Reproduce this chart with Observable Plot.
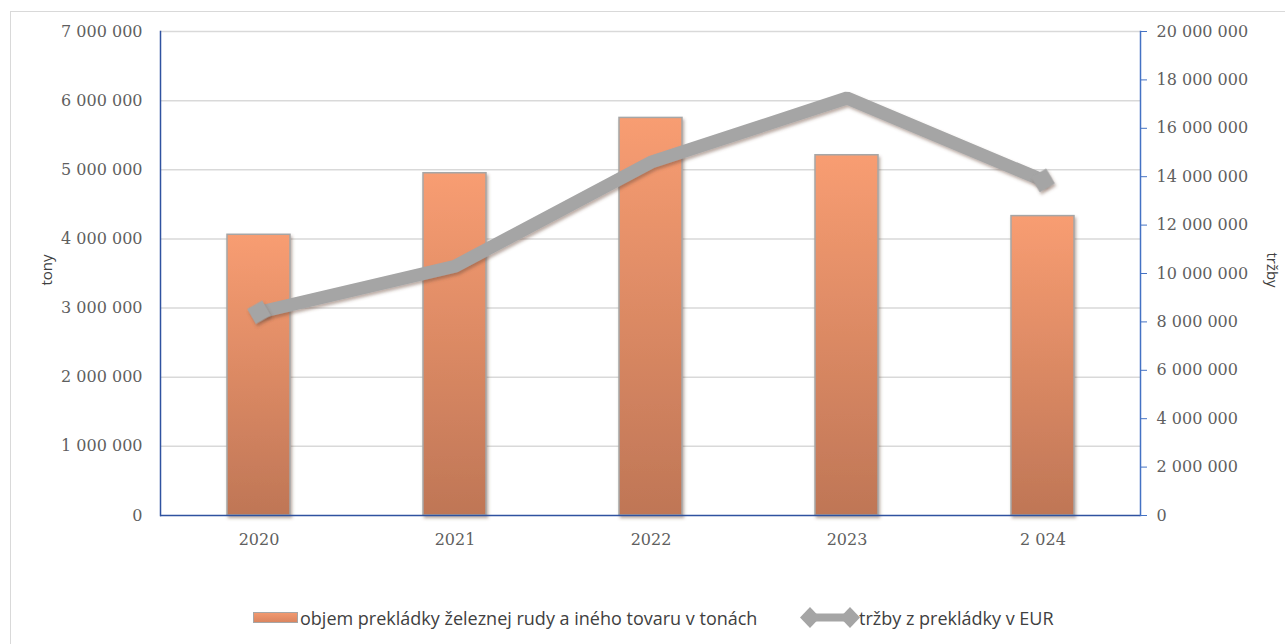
<!DOCTYPE html>
<html><head><meta charset="utf-8">
<script src="https://cdn.jsdelivr.net/npm/d3@7"></script>
<script src="https://cdn.jsdelivr.net/npm/@observablehq/plot@0.6"></script>
<style>
body{margin:0;background:#fff}
#wrap{position:relative;width:1285px;height:644px;overflow:hidden;background:#fff}
#frame{position:absolute;left:10px;top:11px;width:1290px;height:650px;border-top:1.5px solid #D9D9D9;border-left:1.5px solid #D9D9D9}
#chart{position:absolute;left:0;top:0}
.ytitle{position:absolute;font-family:"Open Sans","Lato",sans-serif;font-size:15px;color:#404040;white-space:nowrap}
#legend{position:absolute;left:0;top:604px;width:1285px;height:28px;font-family:"Open Sans","Lato",sans-serif;font-size:18px;color:#404040}
#legend .item{position:absolute;top:0;white-space:nowrap;line-height:28px}
</style></head>
<body><div id="wrap">
<div id="frame"></div>
<div id="chart"></div>
<div class="ytitle" id="tl" style="left:46px;top:270px;transform:translate(-50%,-50%) rotate(-90deg)">tony</div>
<div class="ytitle" id="tr" style="left:1273px;top:270px;transform:translate(-50%,-50%) rotate(90deg)">tržby</div>
<div id="legend"></div>
</div>
<script>
const years = ["2020", "2021", "2022", "2023", "2 024"];
const tonnes = [4060000, 4950000, 5750000, 5210000, 4330000];
const revenue = [8400000, 10300000, 14600000, 17250000, 13850000];
const leftTicks = [0, 1000000, 2000000, 3000000, 4000000, 5000000, 6000000, 7000000];
const rightTicks = [0, 2000000, 4000000, 6000000, 8000000, 10000000, 12000000, 14000000, 16000000, 18000000, 20000000];
const seriesNames = ["objem prekládky železnej rudy a iného tovaru v tonách", "tržby z prekládky v EUR"];

const k = 7000000 / 20000000; // secondary axis mapping
const fmt = d3.formatLocale({decimal: ",", thousands: " ", grouping: [3], currency: ["", ""]}).format(",d");

const barData = years.map((y, i) => ({year: y, t: tonnes[i]}));
const lineData = years.map((y, i) => ({year: y, v: revenue[i] * k}));
const endData = [lineData[0], lineData[lineData.length - 1]];

const plot = Plot.plot({
  width: 1285, height: 575,
  marginLeft: 160, marginRight: 145, marginTop: 31, marginBottom: 60,
  style: {fontFamily: "'DejaVu Serif', serif", fontSize: "16px", color: "#5f5f5f", background: "transparent", overflow: "visible"},
  x: {domain: years, paddingInner: 0.68, paddingOuter: 0.34, label: null},
  y: {domain: [0, 7000000], label: null},
  marks: [
    Plot.gridY(leftTicks.slice(1), {stroke: "#D9D9D9", strokeOpacity: 1, strokeWidth: 1.5}),
    Plot.barY(barData, {x: "year", y: "t", fill: "url(#barGrad)", stroke: "#A6A6A6", strokeWidth: 1.5}),
    Plot.ruleY([0], {stroke: "#2F52A0", strokeWidth: 1.5}),
    Plot.frame({anchor: "left", stroke: "#2F52A0", strokeWidth: 1.5}),
    Plot.frame({anchor: "right", stroke: "#4472C4", strokeWidth: 1.5}),
    Plot.line(lineData, {x: "year", y: "v", stroke: "#A5A5A5", strokeWidth: 13, strokeLinejoin: "miter"}),
    Plot.dot(endData, {x: "year", y: "v", symbol: "diamond2", r: 11, fill: "#A5A5A5", rotate: 15}),
    Plot.axisX({tickSize: 0, tickPadding: 18, fontSize: 16, fill: "#5f5f5f"}),
    Plot.axisY({anchor: "left", ticks: leftTicks, tickSize: 0, tickPadding: 18, tickFormat: fmt, fontSize: 16, fill: "#5f5f5f", label: null}),
    Plot.axisY({anchor: "right", ticks: rightTicks.map(v => v * k), tickSize: 6, tickPadding: 10, stroke: "#4472C4", fill: "#5f5f5f",
      tickFormat: d => fmt(Math.round(d / k)), fontSize: 16, label: null})
  ]
});

const svg = d3.select(plot);
const defs = svg.insert("defs", ":first-child");
const g = defs.append("linearGradient").attr("id", "barGrad").attr("x1", 0).attr("y1", 0).attr("x2", 0).attr("y2", 1);
g.append("stop").attr("offset", "0%").attr("stop-color", "#F89D72");
g.append("stop").attr("offset", "100%").attr("stop-color", "#BF7656");
const f = defs.append("filter").attr("id", "shadow").attr("x", "-10%").attr("y", "-10%").attr("width", "130%").attr("height", "130%");
f.append("feDropShadow").attr("dx", 1.5).attr("dy", 2.5).attr("stdDeviation", 1.5).attr("flood-color", "#6b4a3a").attr("flood-opacity", 0.45);
svg.selectAll("g[aria-label='bar'] rect").attr("filter", "url(#shadow)");
svg.selectAll("g[aria-label='line']").attr("filter", "url(#shadow)");
svg.selectAll("g[aria-label='dot']").attr("filter", "url(#shadow)");
document.getElementById("chart").appendChild(plot);

// legend
const leg = document.getElementById("legend");
leg.innerHTML =
  `<div class="item" style="left:253px"><svg width="46" height="28" style="vertical-align:top"><defs><linearGradient id="lg1" x1="0" y1="0" x2="0" y2="1"><stop offset="0" stop-color="#F39A70"/><stop offset="1" stop-color="#D9845F"/></linearGradient></defs><rect x="0.5" y="8.5" width="44" height="10" fill="url(#lg1)" stroke="#A6A6A6"/></svg></div>` +
  `<div class="item" style="left:300px">${seriesNames[0]}</div>` +
  `<div class="item" style="left:798px"><svg width="66" height="28" style="vertical-align:top"><line x1="12" y1="13.5" x2="52" y2="13.5" stroke="#A5A5A5" stroke-width="8"/><path d="M12 3 L22 13.5 L12 24 L2 13.5Z" fill="#A5A5A5"/><path d="M52 3 L62 13.5 L52 24 L42 13.5Z" fill="#A5A5A5"/></svg></div>` +
  `<div class="item" style="left:859px">${seriesNames[1]}</div>`;
</script>
</body></html>
